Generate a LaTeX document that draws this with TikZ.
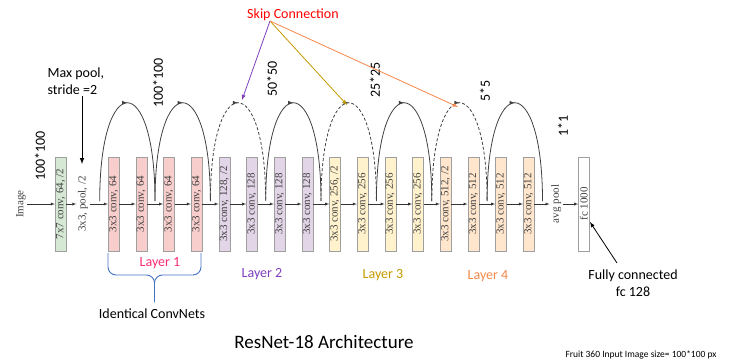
\documentclass[tikz,border=0pt]{standalone}
\usepackage{fontspec}
\setmainfont{Liberation Serif}
\setsansfont{Carlito}
\usepackage{xcolor}
\usetikzlibrary{positioning}
\usetikzlibrary{decorations.markings}

\definecolor{boxgreen}{HTML}{D5E8D4}
\definecolor{boxpink}{HTML}{F8CECC}
\definecolor{boxpurple}{HTML}{E1D5E7}
\definecolor{boxyellow}{HTML}{FFF2CC}
\definecolor{boxorange}{HTML}{FFE6CC}
\definecolor{layerpink}{HTML}{FF2D78}
\definecolor{layerpurple}{HTML}{7F3FBF}
\definecolor{layergold}{HTML}{C49A00}
\definecolor{layerorange}{HTML}{F4884B}
\definecolor{bracecol}{HTML}{4472C4}

\begin{document}
\begin{tikzpicture}[x=1pt,y=-1pt,>=latex,
    conv/.style={draw=gray!75, rotate=90, minimum width=94pt, minimum height=11pt,
        inner sep=0pt, text=black!75, font=\fontsize{11}{12}\selectfont},
    plain/.style={rotate=90, inner sep=1.5pt, text=black!75, font=\fontsize{11}{12}\selectfont},
    dim/.style={rotate=90, font=\sffamily\fontsize{14}{16}\selectfont},
    lbl/.style={font=\sffamily\fontsize{14}{17}\selectfont},
    flow/.style={->, black!80, line width=0.4pt},
    skip/.style={line width=0.8pt, black!75, postaction={decorate},
        decoration={markings, mark=at position 0.5 with {\arrow{>}}}},
    pointer/.style={->, line width=0.8pt}
    ]
\useasboundingbox (0,0) rectangle (731,364);

% input stage
\node[plain] (img) at (21,204) {Image};
\node[conv, fill=boxgreen] (g) at (60.5,204) {7x7 conv, 64, /2};
\node[plain] (pool) at (83,204) {3x3, pool, /2};

% layer 1
\node[conv, fill=boxpink] (b0) at (113.5,204) {3x3 conv, 64};
\node[conv, fill=boxpink] (b1) at (141.2,204) {3x3 conv, 64};
\node[conv, fill=boxpink] (b2) at (168.8,204) {3x3 conv, 64};
\node[conv, fill=boxpink] (b3) at (196.5,204) {3x3 conv, 64};

% layer 2
\node[conv, fill=boxpurple] (b4) at (224.2,204) {3x3 conv, 128, /2};
\node[conv, fill=boxpurple] (b5) at (251.9,204) {3x3 conv, 128};
\node[conv, fill=boxpurple] (b6) at (279.5,204) {3x3 conv, 128};
\node[conv, fill=boxpurple] (b7) at (307.2,204) {3x3 conv, 128};

% layer 3
\node[conv, fill=boxyellow] (b8) at (334.9,204) {3x3 conv, 256, /2};
\node[conv, fill=boxyellow] (b9) at (362.5,204) {3x3 conv, 256};
\node[conv, fill=boxyellow] (b10) at (390.2,204) {3x3 conv, 256};
\node[conv, fill=boxyellow] (b11) at (417.9,204) {3x3 conv, 256};

% layer 4
\node[conv, fill=boxorange] (b12) at (445.5,204) {3x3 conv, 512, /2};
\node[conv, fill=boxorange] (b13) at (473.2,204) {3x3 conv, 512};
\node[conv, fill=boxorange] (b14) at (500.9,204) {3x3 conv, 512};
\node[conv, fill=boxorange] (b15) at (528.6,204) {3x3 conv, 512};

% output
\node[plain] (avg) at (556.2,204) {avg pool};
\node[conv, fill=white] (fc) at (583.9,204) {fc 1000};

% forward arrows
\draw[flow] (img) -- (g);
\draw[flow] (g) -- (pool);
\draw[flow] (pool) -- (b0);
\draw[flow] (b0) -- (b1);
\draw[flow] (b1) -- (b2);
\draw[flow] (b2) -- (b3);
\draw[flow] (b3) -- (b4);
\draw[flow] (b4) -- (b5);
\draw[flow] (b5) -- (b6);
\draw[flow] (b6) -- (b7);
\draw[flow] (b7) -- (b8);
\draw[flow] (b8) -- (b9);
\draw[flow] (b9) -- (b10);
\draw[flow] (b10) -- (b11);
\draw[flow] (b11) -- (b12);
\draw[flow] (b12) -- (b13);
\draw[flow] (b13) -- (b14);
\draw[flow] (b14) -- (b15);
\draw[flow] (b15) -- (avg);
\draw[flow] (avg) -- (fc);

% skip connections
\coordinate (s0) at (99.7,201);
\coordinate (s1) at (155,201);
\coordinate (s2) at (210.4,201);
\coordinate (s3) at (265.7,201);
\coordinate (s4) at (321,201);
\coordinate (s5) at (376.4,201);
\coordinate (s6) at (431.8,201);
\coordinate (s7) at (487.1,201);
\coordinate (s8) at (542.5,201);

\draw[skip] (s0) .. controls +(0,-131) and +(0,-131) .. (s1);
\draw[skip] (s1) .. controls +(0,-131) and +(0,-131) .. (s2);
\draw[skip, dash pattern=on 3pt off 2pt] (s2) .. controls +(0,-131) and +(0,-131) .. (s3);
\draw[skip] (s3) .. controls +(0,-131) and +(0,-131) .. (s4);
\draw[skip, dash pattern=on 3pt off 2pt] (s4) .. controls +(0,-131) and +(0,-131) .. (s5);
\draw[skip] (s5) .. controls +(0,-131) and +(0,-131) .. (s6);
\draw[skip, dash pattern=on 3pt off 2pt] (s6) .. controls +(0,-131) and +(0,-131) .. (s7);
\draw[skip] (s7) .. controls +(0,-131) and +(0,-131) .. (s8);

% feature map sizes
\node[dim] (d0) at (40,156) {100*100};
\node[dim] (d1) at (158,83) {100*100};
\node[dim] (d2) at (272,79) {50*50};
\node[dim] (d3) at (375,80) {25*25};
\node[dim] (d4) at (485,91) {5*5};
\node[dim] (d5) at (563,126) {1*1};

% skip connection label
\node[lbl, text=red] (skiptxt) at (293,15) {Skip Connection};
\coordinate (src) at (270,21);
\coordinate (t1) at (242,100);
\coordinate (t2) at (347,105);
\coordinate (t3) at (458,107);
\draw[pointer, layerpurple] (src) -- (t1);
\draw[pointer, layergold] (src) -- (t2);
\draw[pointer, layerorange] (src) -- (t3);

% max pool
\node[lbl, align=left, anchor=west] (maxp) at (44,81) {Max pool,\\stride =2};
\coordinate (mpa) at (82,96);
\coordinate (mpb) at (82,164);
\draw[->, line width=1pt] (mpa) -- (mpb);

% layer names
\node[lbl, text=layerpink] (l1) at (160,263) {Layer 1};
\node[lbl, text=layerpurple] (l2) at (262,274) {Layer 2};
\node[lbl, text=layergold] (l3) at (383,275) {Layer 3};
\node[lbl, text=layerorange] (l4) at (488,276) {Layer 4};

% brace under layer 1
\draw[bracecol, line width=0.9pt, rounded corners=8pt] (108,253) -- (108,275) -- (154.5,275) -- (154.5,302);
\draw[bracecol, line width=0.9pt, rounded corners=8pt] (201,253) -- (201,275) -- (154.5,275) -- (154.5,302);
\node[lbl] (ident) at (152,314) {Identical ConvNets};

% fully connected
\node[lbl, align=center] (fctxt) at (633,283.5) {Fully connected\\fc 128};
\coordinate (fca) at (617,263);
\coordinate (fcb) at (590,222);
\draw[pointer] (fca) -- (fcb);

% titles
\node[font=\sffamily\fontsize{19}{22}\selectfont] (title) at (324,342) {ResNet-18 Architecture};
\node[font=\sffamily\fontsize{9.5}{11}\selectfont] (note) at (641,355) {Fruit 360 Input Image size= 100*100 px};
\end{tikzpicture}
\end{document}
